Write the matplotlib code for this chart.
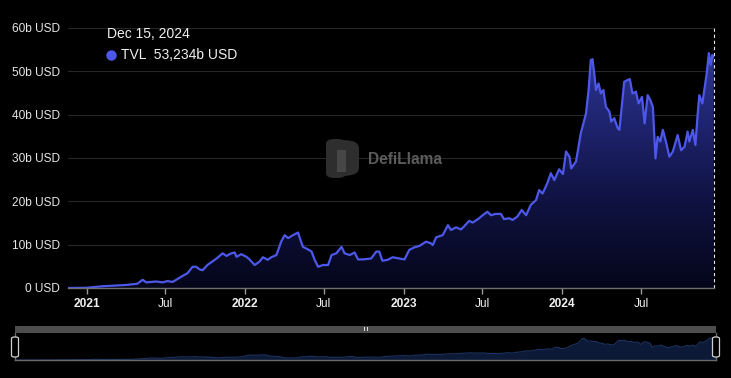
import matplotlib
matplotlib.use("Agg")
import matplotlib.pyplot as plt
import matplotlib.dates as mdates
import numpy as np
from matplotlib.patches import Rectangle, FancyBboxPatch
from matplotlib.lines import Line2D
from matplotlib.colors import LinearSegmentedColormap

# ---------------- data ----------------
dates = [
    "2020-11-19", "2020-12-31", "2021-02-06", "2021-02-23", "2021-04-02", "2021-04-28",
    "2021-05-10", "2021-05-18", "2021-06-10", "2021-06-25", "2021-07-06", "2021-07-18",
    "2021-08-10", "2021-08-21", "2021-09-02", "2021-09-10", "2021-09-18", "2021-09-25",
    "2021-10-06", "2021-10-27", "2021-11-10", "2021-11-19", "2021-11-30", "2021-12-08",
    "2021-12-12", "2021-12-23", "2022-01-04", "2022-01-11", "2022-01-23", "2022-02-03",
    "2022-02-11", "2022-02-22", "2022-03-02", "2022-03-14", "2022-03-25", "2022-04-02",
    "2022-04-10", "2022-04-21", "2022-05-03", "2022-05-07", "2022-05-14", "2022-05-26",
    "2022-06-03", "2022-06-10", "2022-06-18", "2022-06-29", "2022-07-11", "2022-07-19",
    "2022-07-30", "2022-08-11", "2022-08-18", "2022-08-30", "2022-09-10", "2022-09-18",
    "2022-09-29", "2022-10-18", "2022-10-30", "2022-11-06", "2022-11-13", "2022-11-25",
    "2022-12-07", "2022-12-22", "2023-01-03", "2023-01-14", "2023-01-26", "2023-02-06",
    "2023-02-22", "2023-03-05", "2023-03-09", "2023-03-17", "2023-04-01", "2023-04-13",
    "2023-04-20", "2023-05-02", "2023-05-13", "2023-05-21", "2023-06-01", "2023-06-09",
    "2023-06-24", "2023-07-02", "2023-07-13", "2023-07-21", "2023-08-01", "2023-08-13",
    "2023-08-20", "2023-09-01", "2023-09-09", "2023-09-20", "2023-09-30", "2023-10-10",
    "2023-10-21", "2023-11-02", "2023-11-09", "2023-11-17", "2023-11-28", "2023-12-06",
    "2023-12-14", "2023-12-25", "2024-01-03", "2024-01-10", "2024-01-18", "2024-01-22",
    "2024-02-02", "2024-02-13", "2024-02-25", "2024-03-02", "2024-03-07", "2024-03-11",
    "2024-03-15", "2024-03-19", "2024-03-25", "2024-03-30", "2024-04-05", "2024-04-11",
    "2024-04-19", "2024-04-23", "2024-04-30", "2024-05-08", "2024-05-12", "2024-05-18",
    "2024-05-23", "2024-05-31", "2024-06-05", "2024-06-11", "2024-06-19", "2024-06-25",
    "2024-07-03", "2024-07-09", "2024-07-16", "2024-07-22", "2024-07-28", "2024-08-03",
    "2024-08-08", "2024-08-14", "2024-08-20", "2024-08-28", "2024-09-04", "2024-09-12",
    "2024-09-23", "2024-10-01", "2024-10-09", "2024-10-16", "2024-10-20", "2024-10-28",
    "2024-11-03", "2024-11-08", "2024-11-12", "2024-11-19", "2024-11-24", "2024-11-29",
    "2024-12-04", "2024-12-08", "2024-12-12", "2024-12-15",
]
tvl_b = [
    0.0, 0.05, 0.4, 0.5, 0.7, 1.0,
    1.9, 1.3, 1.5, 1.3, 1.6, 1.4,
    2.8, 3.4, 4.9, 4.9, 4.3, 4.1,
    5.3, 6.8, 8.0, 7.4, 8.0, 8.2,
    7.2, 7.8, 7.2, 6.6, 5.3, 6.1,
    7.1, 6.5, 7.1, 7.6, 10.7, 12.2,
    11.5, 12.2, 12.8, 11.5, 9.5, 8.9,
    8.4, 6.5, 4.9, 5.3, 5.3, 7.6,
    8.0, 9.5, 8.0, 7.6, 8.2, 6.6,
    6.6, 6.8, 8.4, 8.4, 6.3, 6.5,
    7.1, 6.8, 6.6, 8.8, 9.4, 9.7,
    10.7, 10.3, 9.9, 11.7, 12.2, 14.5,
    13.4, 14.0, 13.5, 14.3, 15.5, 15.1,
    16.1, 16.8, 17.6, 16.8, 17.1, 17.1,
    15.9, 16.1, 15.7, 16.5, 18.0, 16.8,
    19.2, 20.3, 22.6, 21.8, 24.2, 26.5,
    24.9, 27.4, 26.3, 31.5, 30.3, 27.6,
    29.2, 35.7, 40.3, 45.7, 52.6, 52.8,
    49.5, 45.7, 47.2, 44.9, 45.7, 41.8,
    40.7, 38.4, 39.2, 36.9, 36.5, 42.6,
    47.6, 48.0, 48.2, 44.9, 45.3, 42.6,
    44.1, 38.0, 44.5, 43.4, 41.8, 29.9,
    34.9, 33.8, 36.5, 33.4, 30.3, 31.5,
    35.3, 31.8, 32.6, 36.1, 33.8, 36.5,
    33.0, 39.9, 44.5, 42.6, 46.1, 49.5,
    54.2, 51.5, 53.8, 53.234,
]
y_ticks = [0, 10, 20, 30, 40, 50, 60]
y_tick_labels = ["0 USD", "10b USD", "20b USD", "30b USD", "40b USD", "50b USD", "60b USD"]
x_ticks = ["2021-01-01", "2021-07-01", "2022-01-01", "2022-07-01",
           "2023-01-01", "2023-07-01", "2024-01-01", "2024-07-01"]
x_tick_labels = ["2021", "Jul", "2022", "Jul", "2023", "Jul", "2024", "Jul"]
tooltip_date = "Dec 15, 2024"
series_name = "TVL"
tooltip_value = "53,234b USD"

# ---------------- style ----------------
W, H = 731, 378
DPI = 100
BG = "#000000"
LINE = "#4d58ea"
FONT = "Liberation Sans"

plt.rcParams["font.family"] = [FONT, "DejaVu Sans"]

x = np.array(dates, dtype="datetime64[D]")
xn = mdates.date2num(x)
y = np.array(tvl_b)

fig = plt.figure(figsize=(W / DPI, H / DPI), dpi=DPI, facecolor=BG)

def fx(px):
    return px / W

def fy(py):
    return 1 - py / H

left, right, top, bottom = 68, 714, 28, 288
ax = fig.add_axes([fx(left), fy(bottom), fx(right - left), fy(top) - fy(bottom)])
ax.set_facecolor(BG)

x0 = xn[0]
x1 = xn[-1] + 0.8

# gridlines
for v in y_ticks[1:]:
    ax.axhline(v, color="#262626", lw=0.8, zorder=0)

# gradient area
cmap = LinearSegmentedColormap.from_list(
    "g", [(0.0, "#05061a"), (0.35, "#0f1240"), (0.7, "#1f2470"), (1.0, "#2f3795")])
grad = np.linspace(0, 1, 256).reshape(-1, 1)
poly = ax.fill_between(xn, y, 0, color="none", lw=0)
im = ax.imshow(grad, extent=[x0, x1, 0, 55], origin="lower", aspect="auto",
               cmap=cmap, zorder=1)
im.set_clip_path(poly.get_paths()[0], transform=ax.transData)
ax.set_xlim(x0, x1)
ax.set_ylim(0, 60)

ax.plot(xn, y, color=LINE, lw=1.6, zorder=3, solid_joinstyle="round")

# crosshair
ax.axvline(xn[-1], color="#e8e8e8", lw=0.8, ls=(0, (3, 2.5)), zorder=4, clip_on=False)

# axes styling
for s in ["top", "right", "left"]:
    ax.spines[s].set_visible(False)
ax.spines["bottom"].set_color("#6e6e6e")
ax.spines["bottom"].set_linewidth(1.0)
ax.spines["bottom"].set_zorder(5)

ax.set_yticks(y_ticks)
ax.set_yticklabels(y_tick_labels)
ax.tick_params(axis="y", length=0, pad=6, labelsize=8.6, labelcolor="#e6e6e6")

xt = mdates.date2num(np.array(x_ticks, dtype="datetime64[D]"))
ax.set_xticks(xt)
ax.set_xticklabels(x_tick_labels)
ax.tick_params(axis="x", length=4, width=1, color="#9a9a9a", pad=3,
               labelsize=8.6, labelcolor="#f0f0f0")
for lab in ax.get_xticklabels():
    if lab.get_text().isdigit():
        lab.set_fontweight("bold")

# tooltip
fig.text(fx(107), fy(34), tooltip_date, color="#f0f0f0", fontsize=10,
         va="center", ha="left")
fig.add_artist(Line2D([fx(111)], [fy(55)], marker="o", markersize=7.5,
                      color=LINE, markeredgewidth=0, transform=fig.transFigure))
fig.text(fx(121), fy(55), f"{series_name}  {tooltip_value}", color="#f0f0f0",
         fontsize=10, va="center", ha="left")

# watermark
logo = FancyBboxPatch((fx(326), fy(178)), fx(20), fy(139) - fy(178),
                      boxstyle="round,pad=0,rounding_size=0.012",
                      transform=fig.transFigure, facecolor="#2e2e2e",
                      edgecolor="none", figure=fig, zorder=6)
fig.patches.append(logo)
logo2 = FancyBboxPatch((fx(332), fy(176)), fx(27), fy(140) - fy(176),
                       boxstyle="round,pad=0,rounding_size=0.022",
                       transform=fig.transFigure, facecolor="#2e2e2e",
                       edgecolor="none", figure=fig, zorder=6)
fig.patches.append(logo2)
fig.patches.append(Rectangle((fx(337), fy(172)), fx(9), fy(150) - fy(172),
                             transform=fig.transFigure, facecolor="#474747",
                             edgecolor="none", figure=fig, zorder=7))
fig.text(fx(368), fy(159), "DefiLlama", color="#5c5c5c", fontsize=11.2,
         fontweight="bold", va="center", ha="left", zorder=7)

# slider
s_left, s_right, s_top, s_bot = 15, 716, 333, 360
fig.patches.append(Rectangle((fx(s_left), fy(s_top)), fx(s_right - s_left),
                             fy(326) - fy(s_top), transform=fig.transFigure,
                             facecolor="#4d4d4d", edgecolor="none", figure=fig))
for dx in (-1.5, 0, 1.5):
    fig.patches.append(Rectangle((fx(366 + dx - 0.4), fy(331)), fx(0.8), fy(327) - fy(331),
                                 transform=fig.transFigure, facecolor="#dddddd",
                                 edgecolor="none", figure=fig))
sax = fig.add_axes([fx(s_left), fy(s_bot), fx(s_right - s_left), fy(s_top) - fy(s_bot)])
sax.set_facecolor(BG)
sax.fill_between(xn, y, 0, color="#0c1a38", lw=0)
sax.plot(xn, y, color="#1d3260", lw=0.8)
sax.set_xlim(x0, x1)
sax.set_ylim(0, 66)
sax.set_xticks([])
sax.set_yticks([])
for s in sax.spines.values():
    s.set_color("#6a6a6a")
    s.set_linewidth(1.0)
sax.spines["top"].set_visible(False)
for hx in (s_left, s_right):
    fig.patches.append(FancyBboxPatch((fx(hx - 3.5), fy(357)), fx(7), fy(337) - fy(357),
                                      boxstyle="round,pad=0,rounding_size=0.004",
                                      transform=fig.transFigure, facecolor=BG,
                                      edgecolor="#d0d0d0", lw=0.9, figure=fig, zorder=10))

fig.savefig("out.png", dpi=DPI, facecolor=BG)
